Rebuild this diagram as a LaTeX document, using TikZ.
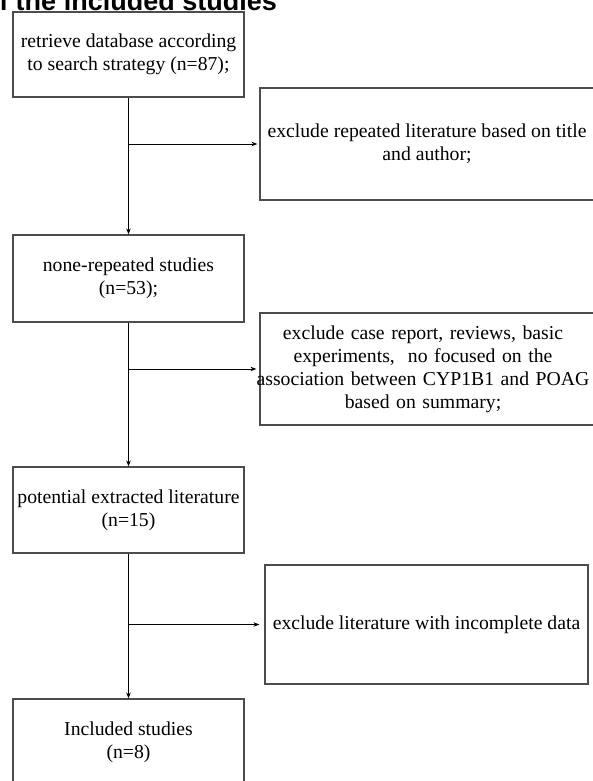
\documentclass[tikz,border=0pt]{standalone}
\usepackage{fontspec}
\setmainfont{Liberation Serif}
\newfontfamily\titlefont{Liberation Sans}
\usetikzlibrary{arrows.meta}
\begin{document}
\begin{tikzpicture}[x=1pt,y=-1pt,
  box/.style={draw=black!70, line width=1.2pt, rectangle, inner sep=0pt, align=center,
    font=\fontsize{19.7}{23}\selectfont},
  conn/.style={draw=black, line width=0.9pt},
  arr/.style={conn, -{Stealth[length=6pt,width=4.5pt]}}]
\useasboundingbox (0,0) rectangle (592,781);
\node[anchor=base east, inner sep=0pt, font=\titlefont\bfseries\fontsize{27}{30}\selectfont] (title) at (277,11) {of the included studies};
\node[box, minimum width=231pt, minimum height=85pt] (b1) at (128.5,54.5) {retrieve database according\\to search strategy (n=87);};
\node[box, minimum width=334pt, minimum height=112pt] (b2) at (427,144) {exclude repeated literature based on title\\and author;};
\node[box, minimum width=231pt, minimum height=87pt] (b3) at (128.5,278.5) {none-repeated studies\\(n=53);};
\node[box, minimum width=334pt, minimum height=112pt, text width=334pt] (b4) at (427,369) {\hspace*{-8pt}exclude case report, reviews, basic\hspace*{-8pt}\\\hspace*{-8pt}experiments,~ no focused on the\hspace*{-8pt}\\\hspace*{-8pt}association between CYP1B1 and POAG\hspace*{-8pt}\\\hspace*{-8pt}based on summary;\hspace*{-8pt}};
\node[box, minimum width=231pt, minimum height=86pt] (b5) at (128.5,510) {potential extracted literature\\(n=15)};
\node[box, minimum width=323pt, minimum height=119pt] (b6) at (426.5,624.5) {exclude literature with incomplete data};
\node[box, minimum width=231pt, minimum height=87pt] (b7) at (128.5,742.5) {Included studies\\(n=8)};
\coordinate (j1) at (b1.south |- b2.west);
\coordinate (j2) at (b3.south |- b4.west);
\coordinate (j3) at (b5.south |- b6.west);
\draw[arr] (b1.south) -- (b3.north);
\draw[arr] (j1) -- ([xshift=-2pt]b2.west);
\draw[arr] (b3.south) -- (b5.north);
\draw[arr] (j2) -- ([xshift=-3pt]b4.west);
\draw[arr] (b5.south) -- (b7.north);
\draw[arr] (j3) -- ([xshift=-5pt]b6.west);
\end{tikzpicture}
\end{document}
